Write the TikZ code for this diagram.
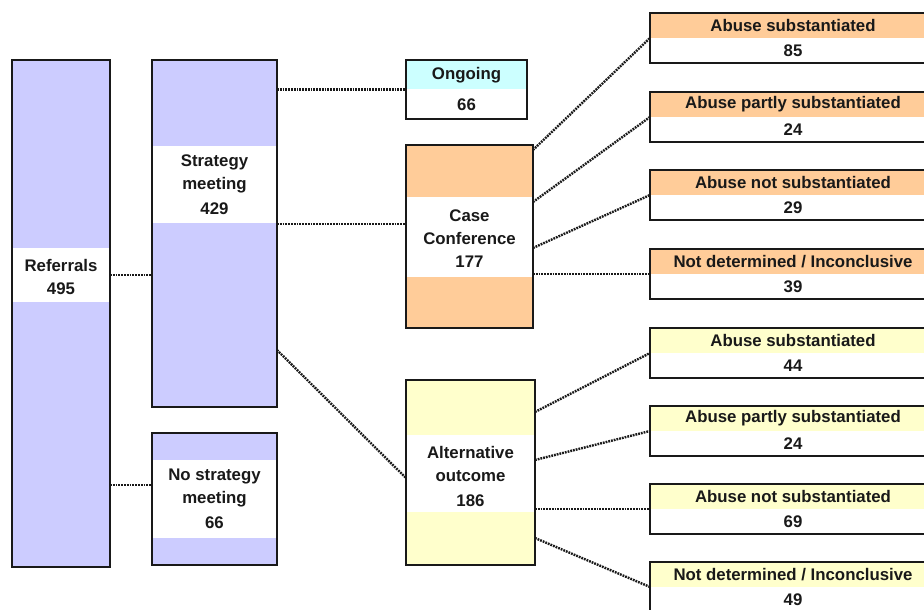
\documentclass[tikz,border=0pt]{standalone}
\usepackage{fontspec}
\setmainfont{Liberation Sans}
\usetikzlibrary{positioning, calc}
\definecolor{lav}{RGB}{204,204,255}
\definecolor{peach}{RGB}{255,204,153}
\definecolor{cream}{RGB}{255,255,204}
\definecolor{aqua}{RGB}{204,255,255}
\definecolor{ink}{RGB}{25,25,25}
\tikzset{%
   % box with a white band between two heights (from its bottom edge)
   band/.style 2 args={
      path picture={\fill[white]
         ([yshift=#1]path picture bounding box.south west) rectangle
         ([yshift=#2]path picture bounding box.south east);}
   },
   stage/.style={
      rectangle,
      draw=ink,
      line width=2.5pt,
      inner sep=0pt,
      outer sep=0pt
   },
   result/.style={
      stage,
      minimum width=286pt,
      minimum height=50pt,
      band={0pt}{25pt}
   },
   txt/.style={
      font=\bfseries\fontsize{16.8}{23}\selectfont,
      text=ink,
      align=center,
      inner sep=0pt
   },
   link/.style={
      draw=ink,
      line width=2.4pt,
      dash pattern=on 1.8pt off 1pt
   },
}

\begin{document}
\begin{tikzpicture}[x=1pt, y=1pt]
  \useasboundingbox (0,0) rectangle (924,610);
  \clip (0,0) rectangle (924,610);
  \fill[white] (0,0) rectangle (924,610);

  % first column
  \node[stage, fill=lav, minimum width=98pt, minimum height=507pt,
        band={265pt}{319pt}] (ref) at (61,296.5) {};
  \node[txt] (reft) at (61,333) {Referrals\\495};

  % second column
  \node[stage, fill=lav, minimum width=125pt, minimum height=347pt,
        band={184pt}{261pt}] (sm) at (214.5,376.5) {};
  \node[txt] (smt) at (214.5,425) {Strategy\\meeting\\[2pt]429};
  \node[stage, fill=lav, minimum width=125pt, minimum height=132pt,
        band={27pt}{105pt}] (nsm) at (214.5,111) {};
  \node[txt] (nsmt) at (214.5,111) {No strategy\\meeting\\[2pt]66};

  % third column
  \node[stage, fill=aqua, minimum width=121pt, minimum height=59pt,
        band={0pt}{29.5pt}] (og) at (466.5,520.5) {};
  \node[txt] (ogt) at (466.5,535) {Ongoing};
  \node[txt] (ogn) at (466.5,505) {66};
  \node[stage, fill=peach, minimum width=127pt, minimum height=183pt,
        band={51pt}{131pt}] (cc) at (469.5,373.5) {};
  \node[txt] (cct) at (469.5,371) {Case\\Conference\\177};
  \node[stage, fill=cream, minimum width=129pt, minimum height=185pt,
        band={53pt}{130pt}] (alt) at (470.5,137.5) {};
  \node[txt] (altt) at (470.5,134) {Alternative\\outcome\\[2pt]186};

  % outcome boxes
  \foreach \i/\y/\col/\what/\num in {
      1/572/peach/{Abuse substantiated}/85,
      2/493/peach/{Abuse partly substantiated}/24,
      3/415/peach/{Abuse not substantiated}/29,
      4/336/peach/{Not determined / Inconclusive}/39,
      5/257/cream/{Abuse substantiated}/44,
      6/179/cream/{Abuse partly substantiated}/24,
      7/101/cream/{Abuse not substantiated}/69,
      8/23/cream/{Not determined / Inconclusive}/49}{
    \node[result, fill=\col] (r\i) at (793,\y) {};
    \node[txt] (r\i t) at ([yshift=-12.5pt]r\i.north) {\what};
    \node[txt] (r\i n) at ([yshift=12.5pt]r\i.south) {\num};
  }

  % connectors
  \draw[link] (ref.east |- 0,335) -- (sm.west |- 0,335);
  \draw[link] (ref.east |- 0,125) -- (nsm.west |- 0,125);
  \draw[link] (sm.east |- og.west) -- (og.west);
  \draw[link] (sm.east |- 0,386) -- (cc.west |- 0,386);
  \draw[link] (sm.east |- 0,260) -- (alt.west |- 0,132);
  \draw[link] (cc.east |- 0,460) -- (r1.west);
  \draw[link] (cc.east |- 0,408) -- (r2.west);
  \draw[link] (cc.east |- 0,362) -- (r3.west);
  \draw[link] (cc.east |- r4.west) -- (r4.west);
  \draw[link] (alt.east |- 0,198) -- (r5.west);
  \draw[link] (alt.east |- 0,150) -- (r6.west);
  \draw[link] (alt.east |- r7.west) -- (r7.west);
  \draw[link] (alt.east |- 0,72) -- (r8.west);
\end{tikzpicture}
\end{document}
